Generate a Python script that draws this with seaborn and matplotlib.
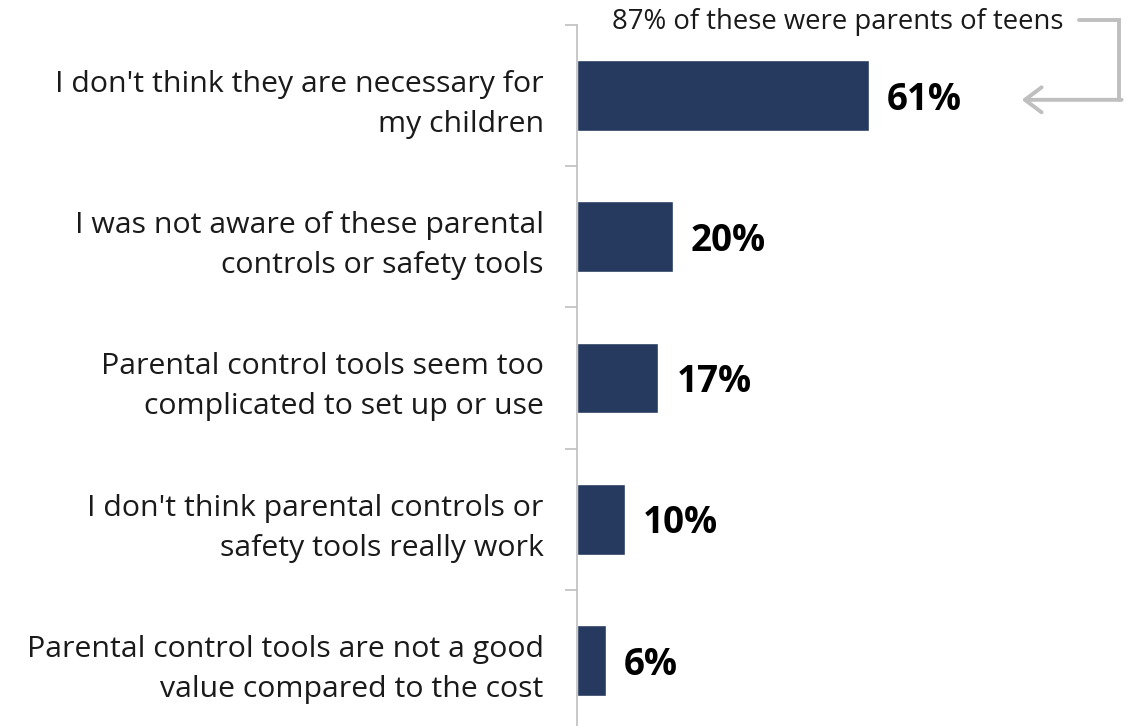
import matplotlib
matplotlib.use("Agg")
import matplotlib.pyplot as plt
import seaborn as sns
import pandas as pd
import numpy as np

# Reasons for not using parental controls
reasons = [
    "I don't think they are necessary for\nmy children",
    "I was not aware of these parental\ncontrols or safety tools",
    "Parental control tools seem too\ncomplicated to set up or use",
    "I don't think parental controls or\nsafety tools really work",
    "Parental control tools are not a good\nvalue compared to the cost",
]
shares = [61, 20, 17, 10, 6]
value_labels = ["61%", "20%", "17%", "10%", "6%"]
note_text = "87% of these were parents of teens"

sns.set_theme(style="white")
plt.rcParams["font.family"] = ["Open Sans", "DejaVu Sans"]

BAR = "#253A5E"
GREY = "#BFBFBF"

df = pd.DataFrame({"reason": reasons, "share": shares})

fig = plt.figure(figsize=(11.35, 7.26), dpi=100)
ax = fig.add_axes([0.5084, -0.0069, 0.4916, 0.9725])

sns.barplot(data=df, y="reason", x="share", orient="h", color=BAR,
            width=0.5, saturation=1, ax=ax)

ax.set_xlim(0, 116.7)
ax.set_ylim(4.5, -0.5)
ax.set_xlabel("")
ax.set_ylabel("")
ax.set_xticks([])

# category labels
ax.set_yticks(range(len(reasons)))
ax.set_yticklabels(reasons, fontsize=21.8, color="#1a1a1a", ha="right",
                   linespacing=1.5)
ax.tick_params(axis="y", which="major", length=0, pad=24)

# separators between categories on the axis
ax.set_yticks(np.arange(-0.5, len(reasons), 1.0), minor=True)
ax.tick_params(axis="y", which="minor", length=9, width=1.2, color=GREY,
               left=True)

for side in ["top", "right", "bottom"]:
    ax.spines[side].set_visible(False)
ax.spines["left"].set_color(GREY)
ax.spines["left"].set_linewidth(1.2)

# value labels
for i, (v, lab) in enumerate(zip(shares, value_labels)):
    ax.text(v + 3.8, i + 0.03, lab, va="center", ha="left", fontsize=26.5,
            fontweight="bold", color="black")

# callout note with bracket arrow
ax.text(54.5, -0.52, note_text, ha="center", va="center", fontsize=19.8,
        color="#1a1a1a", clip_on=False)
ax.plot([105.0, 113.4, 113.4], [-0.535, -0.535, 0.03], color=GREY,
        lw=2.8, clip_on=False, solid_joinstyle="miter")
ax.annotate("", xy=(93.0, 0.03), xytext=(113.9, 0.03),
            xycoords="data", textcoords="data",
            arrowprops=dict(arrowstyle="->,head_length=1.0,head_width=0.75",
                            color=GREY, lw=2.8, shrinkA=0, shrinkB=0),
            annotation_clip=False)

fig.savefig("out.png", dpi=100)
